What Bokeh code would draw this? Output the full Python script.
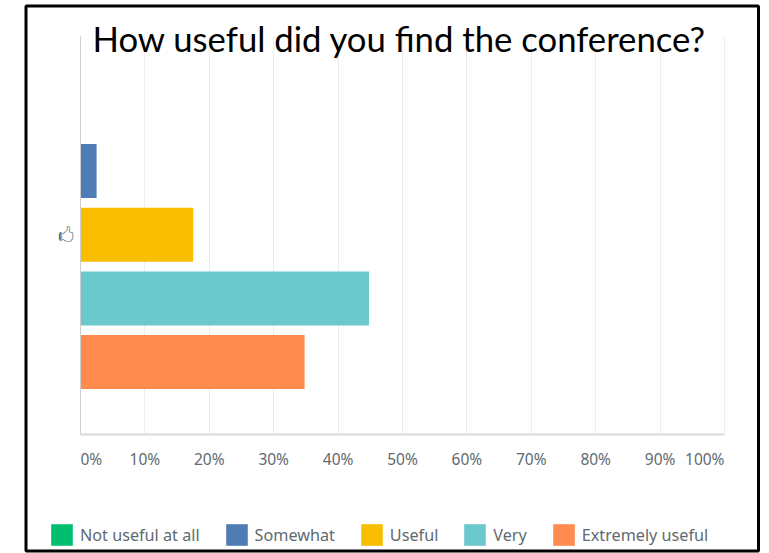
from bokeh.plotting import figure
from bokeh.models import Range1d, FixedTicker, Label, Legend, LegendItem, BoxAnnotation
from bokeh.embed import file_html
from bokeh.resources import INLINE

title_text = "How useful did you find the conference?"
categories = ["Not useful at all", "Somewhat", "Useful", "Very", "Extremely useful"]
values = [0, 2.5, 17.5, 44.8, 34.8]
colors = ["#00BF6F", "#507CB6", "#F9BE00", "#6BC8CD", "#FF8B4F"]
ticks = [0, 10, 20, 30, 40, 50, 60, 70, 80, 90, 100]
row_icon = "\U0001F592"

W, H = 769, 553
FONT = "Noto Sans"
TXT = "#5f6a70"
PX_X0, PX_X100 = 80, 724          # pixel columns of 0% and 100%
PX_TOP, PX_BASE = 36, 434         # pixel rows of the plot area
PX_ROW0, ROW_STEP = 106.8, 63.7   # centre of the first row, distance between rows

sx = (PX_X100 - PX_X0) / 100
x_start, x_end = -PX_X0 / sx, (W - PX_X0) / sx
y_of = lambda py: (py - PX_ROW0) / ROW_STEP

p = figure(width=W, height=H, output_backend="svg", toolbar_location=None,
           x_range=Range1d(x_start, x_end), y_range=Range1d(y_of(H), y_of(0)),
           min_border=0, min_border_left=0, min_border_right=0,
           min_border_top=0, min_border_bottom=0)
p.outline_line_color = None
p.background_fill_color = "white"
p.border_fill_color = "white"

p.xgrid.ticker = FixedTicker(ticks=ticks)
p.xgrid.grid_line_color = "#ececec"
p.xgrid.grid_line_width = 1
p.xgrid.cross_bounds = (y_of(PX_BASE), y_of(PX_TOP))
p.ygrid.visible = False

xa = p.xaxis[0]
xa.fixed_location = y_of(PX_BASE)
xa.bounds = (ticks[0], ticks[-1])
xa.ticker = FixedTicker(ticks=ticks)
xa.major_label_overrides = {t: (f"{t}%" if t not in (0, 100) else "") for t in ticks}
xa.axis_line_color = "#d9d9d9"
xa.axis_line_width = 2
xa.major_tick_line_color = None
xa.minor_tick_line_color = None
xa.major_label_standoff = 7
xa.major_label_text_font = FONT
xa.major_label_text_font_size = "15.5px"
xa.major_label_text_color = TXT

ya = p.yaxis[0]
ya.fixed_location = 0
ya.bounds = (y_of(PX_TOP), y_of(PX_BASE))
ya.ticker = FixedTicker(ticks=[2])
ya.major_label_overrides = {2: row_icon}
ya.axis_line_color = "#cfcfcf"
ya.major_tick_line_color = None
ya.minor_tick_line_color = None
ya.major_label_standoff = 1
ya.major_label_text_font = "DejaVu Sans"
ya.major_label_text_font_size = "17px"
ya.major_label_text_color = "#4f5a6c"

items = []
for i, (cat, val, col) in enumerate(zip(categories, values, colors)):
    r = p.hbar(y=[i], left=[0], right=[val], height=54 / ROW_STEP, color=col, line_color=None)
    items.append(LegendItem(label=cat, renderers=[r]))

legend = Legend(items=items, orientation="horizontal", location=(48, H - 548),
                padding=0, margin=0, spacing=23, glyph_width=27, glyph_height=27,
                label_standoff=5, label_height=27, background_fill_alpha=0,
                border_line_color=None, label_text_font=FONT,
                label_text_font_size="16.2px", label_text_color=TXT)
p.add_layout(legend, "center")

for t, align in ((ticks[0], "left"), (ticks[-1], "right")):
    p.add_layout(Label(x=t, y=H - 458, y_units="screen", text=f"{t}%", text_align=align,
                       text_baseline="middle",
                       text_font=FONT, text_font_size="15.5px", text_color=TXT))

p.add_layout(Label(x=399, y=H - 38, x_units="screen", y_units="screen", text=title_text,
                   text_align="center", text_baseline="alphabetic", text_font="Lato",
                   text_font_size="34.7px", text_color="black"))

p.add_layout(BoxAnnotation(left=25.5, right=758, top=H - 5.5, bottom=H - 550.5,
                           left_units="screen", right_units="screen",
                           top_units="screen", bottom_units="screen",
                           fill_alpha=0, line_color="black", line_alpha=1, line_width=3))

open("out.html", "w").write(file_html(p, INLINE))
